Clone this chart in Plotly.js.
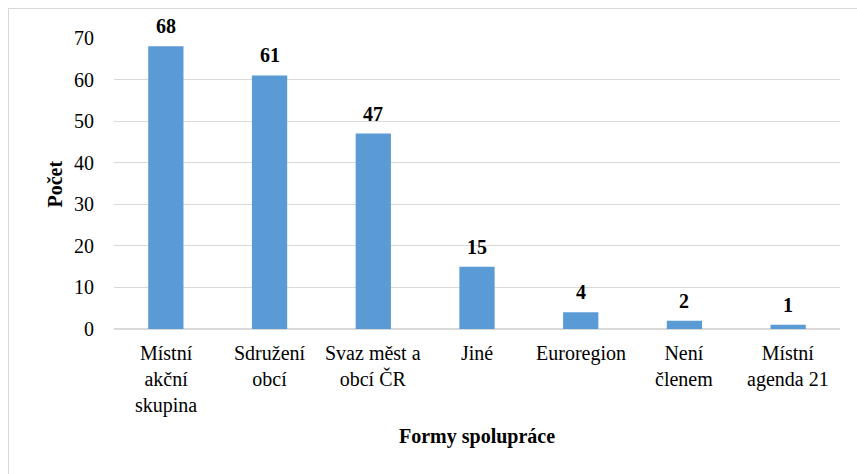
<!DOCTYPE html>
<html>
<head>
<meta charset="utf-8">
<script src="https://cdn.plot.ly/plotly-3.0.1.min.js"></script>
<style>
html,body{margin:0;padding:0;background:#fff;overflow:hidden;}
#chart{width:857px;height:474px;position:absolute;left:0;top:0;}
#frame{position:absolute;left:8px;top:8px;width:900px;height:500px;border-left:1px solid #d9d9d9;border-top:1px solid #d9d9d9;pointer-events:none;}
</style>
</head>
<body>
<div id="chart"></div>
<div id="frame"></div>
<script>
const categories = ["Místní<br>akční<br>skupina", "Sdružení<br>obcí", "Svaz měst a<br>obcí ČR", "Jiné", "Euroregion", "Není<br>členem", "Místní<br>agenda 21"];
const values = [68, 61, 47, 15, 4, 2, 1];
const yTicks = [0, 10, 20, 30, 40, 50, 60, 70];
const xTitle = "Formy spolupráce";
const yTitle = "Počet";

const FONT = "Liberation Serif";
const f = (bold) => ({family: FONT, size: 20, color: "#000"});

const trace = {
  type: "bar",
  x: categories,
  y: values,
  marker: {color: "#5B9BD5"},
  hoverinfo: "none"
};

const annotations = [];
categories.forEach((c, i) => {
  annotations.push({
    x: c, y: values[i], xref: "x", yref: "y",
    text: "<b>" + values[i] + "</b>",
    showarrow: false, yanchor: "bottom", yshift: 7,
    font: f()
  });
  annotations.push({
    x: c, y: 0, xref: "x", yref: "paper",
    text: c, align: "center",
    showarrow: false, yanchor: "top", yshift: -11,
    font: f()
  });
});
annotations.push({
  x: 0.5, y: -0.371, xref: "paper", yref: "paper",
  text: "<b>" + xTitle + "</b>", showarrow: false,
  xanchor: "center", yanchor: "middle", font: f()
});
annotations.push({
  x: -0.0813, y: 0.5, xref: "paper", yref: "paper",
  text: "<b>" + yTitle + "</b>", showarrow: false, textangle: -90,
  xanchor: "center", yanchor: "middle", font: f()
});

const layout = {
  width: 857, height: 474,
  margin: {l: 114, r: 17, t: 38, b: 145},
  paper_bgcolor: "#fff", plot_bgcolor: "#fff",
  bargap: 0.66,
  showlegend: false,
  xaxis: {
    automargin: false,
    showgrid: false,
    showline: false,
    showticklabels: false,
    ticks: ""
  },
  yaxis: {
    automargin: false,
    range: [0, 70],
    tickvals: yTicks,
    showgrid: true, gridcolor: "#d9d9d9", gridwidth: 1,
    zeroline: true, zerolinecolor: "#d9d9d9", zerolinewidth: 2,
    showline: false,
    ticks: "outside", ticklen: 15, tickcolor: "rgba(0,0,0,0)",
    tickfont: f()
  },
  annotations: annotations
};

Plotly.newPlot("chart", [trace], layout, {staticPlot: true, displayModeBar: false});
</script>
</body>
</html>
